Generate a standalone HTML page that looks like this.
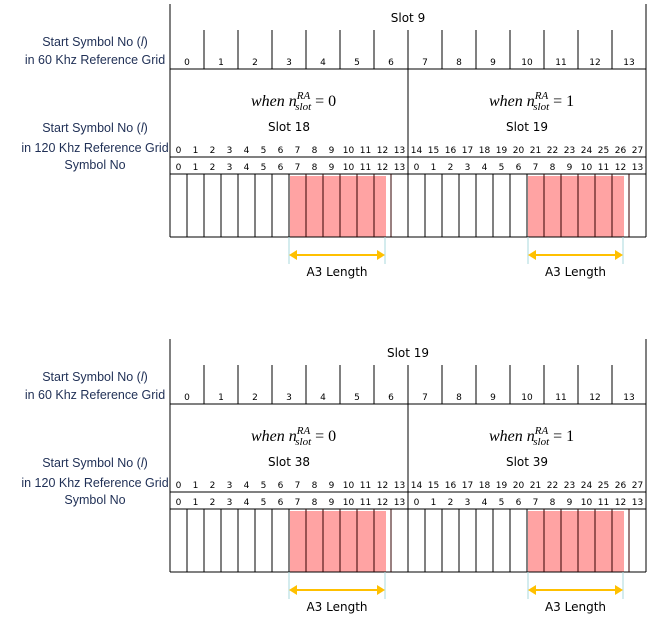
<!DOCTYPE html>
<html><head><meta charset="utf-8"><style>
body{margin:0;background:#fff}
svg{display:block}
.lab{font-family:"Liberation Sans",sans-serif;font-size:12.5px;fill:#1f2f55}
.num{font-family:"DejaVu Sans",sans-serif;font-size:9px;fill:#000}
.slot{font-family:"DejaVu Sans",sans-serif;font-size:12px;fill:#000}
.math{font-family:"Liberation Serif",serif;font-style:italic;font-size:16px;fill:#000}
</style></head><body>
<svg id="s" width="654" height="624" viewBox="0 0 654 624" xmlns="http://www.w3.org/2000/svg"></svg>
<script>
const slot60 = ["Slot 9", "Slot 19"];
const slots120 = [["Slot 18","Slot 19"],["Slot 38","Slot 39"]];
const nSlot = [0, 1];
const a3Start = [7, 7];
const a3End = [12, 12];
const offsets = [0, 335];
const NS="http://www.w3.org/2000/svg";
const svg=document.getElementById('s');
const X0=170, W=17;
function el(tag,attrs,parent,text){const e=document.createElementNS(NS,tag);for(const k in attrs)e.setAttribute(k,attrs[k]);if(text!==undefined)e.textContent=text;(parent||svg).appendChild(e);return e;}
function ln(x1,y1,x2,y2,g,c,w){return el('line',{x1,y1,x2,y2,stroke:c||'#000','stroke-width':w||1},g);}
offsets.forEach((o,d)=>{
  const g=el('g',{transform:`translate(0,${o})`});
  
  
  [["Start Symbol No (",46],["in 60 Khz Reference Grid",64],["Start Symbol No (",132],["in 120 Khz Reference Grid",152],["Symbol No",169]].forEach((t,i)=>{
    const tx=el('text',{x:95,y:t[1],'text-anchor':'middle',class:'lab'},g);
    
    
    if(t[0].startsWith("Start")){tx.textContent=t[0];el('tspan',{'font-style':'italic'},tx,'l');el('tspan',{},tx,')');}
    else tx.textContent=t[0];
  });
  for(let h=0;h<2;h++){
    const r=el('rect',{x:X0+h*14*W+a3Start[h]*W+1,y:176,width:(a3End[h]-a3Start[h]+1)*W-6,height:61,fill:'#ffa3a3'},g);
    
    
  }
  ln(X0,4,X0,237,g);ln(646,4,646,237,g);
  ln(X0,69,646,69,g);ln(408,69,408,174,g);
  ln(X0,157,646,157,g);ln(X0,174,646,174,g);ln(X0,237,646,237,g);
  const st=el('text',{x:408,y:22,'text-anchor':'middle',class:'slot'},g,slot60[d]);
  
  
  for(let i=0;i<14;i++){
    if(i>0)ln(X0+i*34,30,X0+i*34,69,g);
    const t=el('text',{x:X0+i*34+17,y:65,'text-anchor':'middle',class:'num'},g,String(i));
    
    
  }
  for(let h=0;h<2;h++){
    const cx=X0+h*238+119;
    const m=el('text',{x:cx-38,y:106,class:'math'},g);
    
    
    el('tspan',{},m,'when n');
    el('tspan',{dy:-7,'font-size':'11'},m,'RA');
    el('tspan',{dx:-15,dy:11,'font-size':'11'},m,'slot');
    el('tspan',{dy:-4,'font-style':'normal'},m,' = '+nSlot[h]);
    const s=el('text',{x:cx,y:131,'text-anchor':'middle',class:'slot'},g,slots120[d][h]);
    
    
  }
  for(let i=0;i<28;i++){
    const x=X0+i*W;
    if(i>0)ln(x,174,x,237,g, (i>=a3Start[0]+1&&i<=a3End[0]+1)||(i>=14+a3Start[1]+1&&i<=14+a3End[1]+1)?'#300':'#000');
    if(i===14)ln(x,157,x,174,g);
    const t1=el('text',{x:x+W/2,y:153,'text-anchor':'middle',class:'num'},g,String(i));
    
    
    const t2=el('text',{x:x+W/2,y:170,'text-anchor':'middle',class:'num'},g,String(i%14));
    
    
  }
  for(let h=0;h<2;h++){
    const xs=X0+h*238+a3Start[h]*W+(h?1:0), xe=X0+h*238+(a3End[h]+1)*W-6;
    ln(xs,237,xs,264,g,'#a8d8dc');ln(xe,237,xe,264,g,'#a8d8dc');
    ln(xs+6,255,xe-6,255,g,'#ffc000',2);
    el('polygon',{points:`${xs},255 ${xs+8},250 ${xs+8},260`,fill:'#ffc000'},g);
    el('polygon',{points:`${xe},255 ${xe-8},250 ${xe-8},260`,fill:'#ffc000'},g);
    const t=el('text',{x:(xs+xe)/2,y:276,'text-anchor':'middle',class:'slot'},g,'A3 Length');
    
    
  }
});
</script>
</body></html>
